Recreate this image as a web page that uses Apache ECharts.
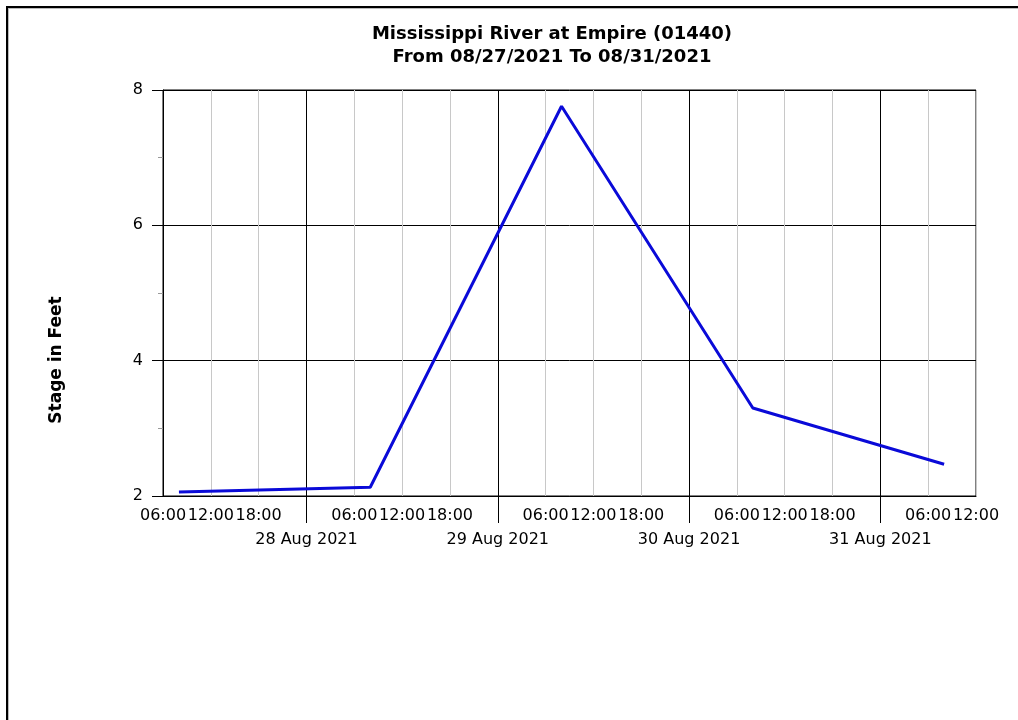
<!DOCTYPE html>
<html>
<head>
<meta charset="utf-8">
<script src="https://cdn.jsdelivr.net/npm/echarts@6/dist/echarts.min.js"></script>
<style>
  html, body { margin: 0; padding: 0; background: #fff; }
  #frame { position: absolute; left: 6px; top: 6px; width: 1012px; height: 714px;
           border-left: 2px solid #000; border-top: 2px solid #000;
           box-shadow: inset 1px 1px 0 #bbb; box-sizing: border-box; }
  #main { position: absolute; left: 0; top: 0; width: 1018px; height: 720px; }
</style>
</head>
<body>
<div id="frame"></div>
<div id="main"></div>
<script>
// observation times (UTC) and stage readings
var times = ['2021-08-27T08:00:00Z', '2021-08-28T08:00:00Z', '2021-08-29T08:00:00Z', '2021-08-30T08:00:00Z', '2021-08-31T08:00:00Z'];
var stages = [2.06, 2.13, 7.76, 3.30, 2.47];
var dayLabels = ['28 Aug 2021', '29 Aug 2021', '30 Aug 2021', '31 Aug 2021'];
var yTicks = [2, 4, 6, 8];

var HOUR = 3600 * 1000;
var xMin = Date.UTC(2021, 7, 27, 6);
var xMax = Date.UTC(2021, 7, 31, 12);
var firstDay = Date.UTC(2021, 7, 28);

// hourly categories used only for the day grid lines and long ticks
var hours = [];
for (var t = xMin; t <= xMax; t += HOUR) hours.push(t);
function isMidnight(i) { return new Date(hours[i]).getUTCHours() === 0; }

var font = 'DejaVu Sans';
var myChart = echarts.init(document.getElementById('main'));
myChart.setOption({
  animation: false,
  title: {
    text: 'Mississippi River at Empire (01440)\nFrom 08/27/2021 To 08/31/2021',
    left: 547, top: 18, textAlign: 'center',
    textStyle: { fontFamily: font, fontSize: 18, fontWeight: 'bold', color: '#000', lineHeight: 23 }
  },
  grid: { left: 163, right: 42, top: 90, bottom: 224, show: true, borderColor: '#000', borderWidth: 1 },
  xAxis: [{
    type: 'value', position: 'bottom',
    min: xMin, max: xMax, interval: 6 * HOUR,
    axisLine: { lineStyle: { color: '#000' } },
    axisTick: { show: false },
    splitLine: { show: true, lineStyle: { color: '#c8c8c8', width: 1 } },
    axisLabel: {
      margin: 8, color: '#000', fontFamily: font, fontSize: 16, lineHeight: 24,
      showMinLabel: true, showMaxLabel: true, hideOverlap: false,
      formatter: function (v) {
        var d = new Date(v);
        var h = d.getUTCHours();
        if (h === 0) return '\n' + dayLabels[Math.round((v - firstDay) / (24 * HOUR))];
        return (h < 10 ? '0' : '') + h + ':00';
      }
    }
  }, {
    type: 'category', position: 'bottom', boundaryGap: false, data: hours,
    axisLine: { show: false },
    axisLabel: { show: false },
    axisTick: { show: true, length: 27, interval: isMidnight, lineStyle: { color: '#000' } },
    splitLine: { show: true, interval: isMidnight, lineStyle: { color: '#000', width: 1 } }
  }],
  yAxis: {
    type: 'value', min: yTicks[0], max: yTicks[yTicks.length - 1], interval: 2,
    name: 'Stage in Feet', nameLocation: 'middle', nameGap: 98, nameRotate: 90,
    nameTextStyle: { fontFamily: font, fontSize: 17, fontWeight: 'bold', color: '#000', padding: [0, 134, 0, 0] },
    axisLine: { show: true, lineStyle: { color: '#000' } },
    axisTick: { show: true, length: 11, lineStyle: { color: '#000' } },
    minorTick: { show: true, splitNumber: 2, length: 5, lineStyle: { color: '#999' } },
    splitLine: { show: true, lineStyle: { color: '#000' } },
    axisLabel: { margin: 20, color: '#000', fontFamily: font, fontSize: 16 }
  },
  series: [{
    type: 'line',
    xAxisIndex: 0,
    data: times.map(function (s, i) { return [Date.parse(s), stages[i]]; }),
    showSymbol: false,
    lineStyle: { color: '#0a0ad8', width: 3 },
    itemStyle: { color: '#0a0ad8' }
  }]
});
</script>
</body>
</html>
